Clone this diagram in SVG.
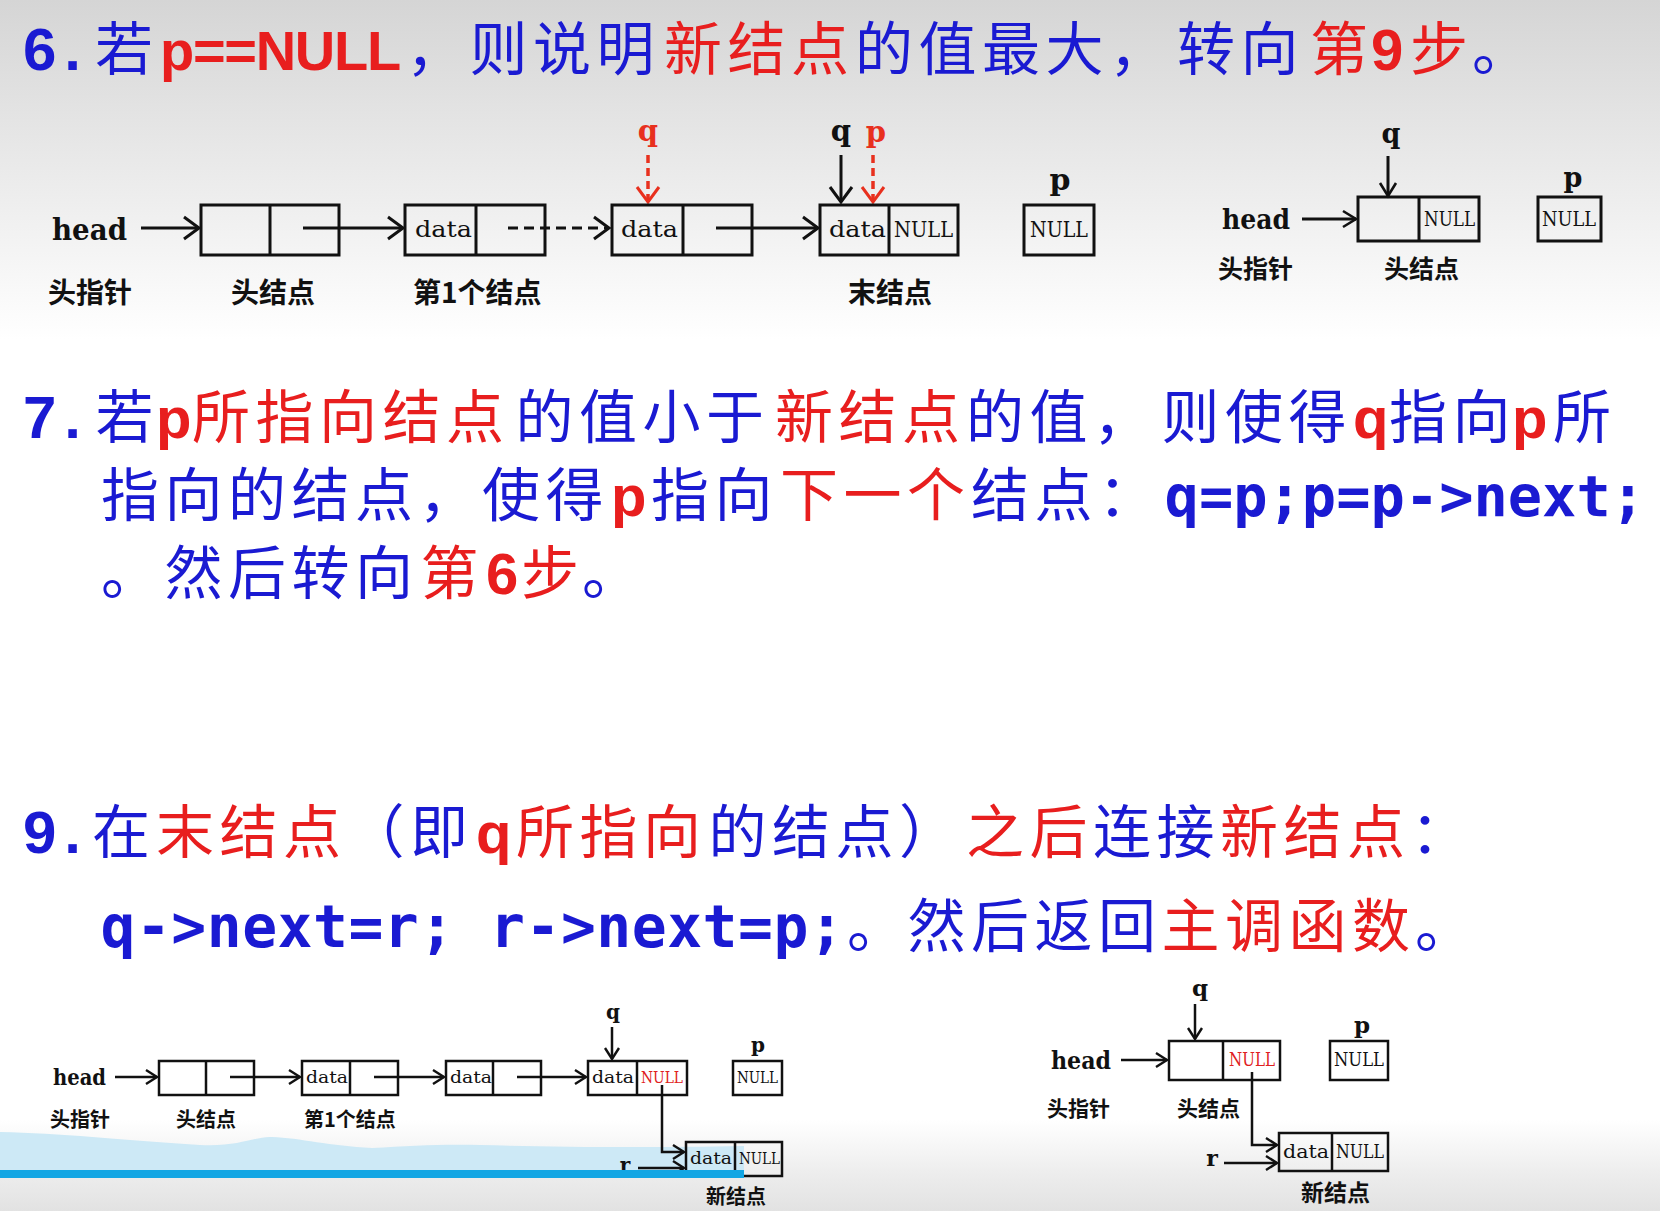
<svg xmlns="http://www.w3.org/2000/svg" width="1660" height="1211" viewBox="0 0 1660 1211">
<defs>
 <linearGradient id="topbg" x1="0" y1="0" x2="0" y2="1">
  <stop offset="0" stop-color="#d5d5d5"/>
  <stop offset="0.4" stop-color="#e6e6e6"/>
  <stop offset="1" stop-color="#ffffff"/>
 </linearGradient>
 <linearGradient id="botbg" x1="0" y1="0" x2="0" y2="1">
  <stop offset="0" stop-color="#ffffff"/>
  <stop offset="0.55" stop-color="#eeeeee"/>
  <stop offset="1" stop-color="#e2e2e2"/>
 </linearGradient>
 <marker id="ah" markerUnits="userSpaceOnUse" markerWidth="22" markerHeight="28" refX="18" refY="13" orient="auto" overflow="visible"><path d="M3,2 L18,13 L3,24" fill="none" stroke="#111" stroke-width="3"/></marker>
 <marker id="ahr" markerUnits="userSpaceOnUse" markerWidth="22" markerHeight="28" refX="18" refY="13" orient="auto" overflow="visible"><path d="M3,2 L18,13 L3,24" fill="none" stroke="#e8301e" stroke-width="3"/></marker>
 <marker id="ahm" markerUnits="userSpaceOnUse" markerWidth="18" markerHeight="22" refX="15" refY="10" orient="auto" overflow="visible"><path d="M2,2 L15,10 L2,18" fill="none" stroke="#111" stroke-width="2.6"/></marker>
 <marker id="ahs" markerUnits="userSpaceOnUse" markerWidth="16" markerHeight="20" refX="13" refY="9" orient="auto" overflow="visible"><path d="M2,2 L13,9 L2,16" fill="none" stroke="#111" stroke-width="2.4"/></marker>
</defs>
<style>
 .st{font-family:"Noto Sans CJK SC",sans-serif;font-size:58px}
 .c{font-family:"Noto Sans CJK SC",sans-serif}
 .L{font-family:"Liberation Sans",Arial,sans-serif;font-weight:700}
 .num{letter-spacing:8px;font-size:60px}
 .nul6{font-size:56px;letter-spacing:-1.3px}
 .M{font-family:"DejaVu Sans Mono",monospace;font-weight:700;font-size:57px}
 .M2{font-size:58px;letter-spacing:0.5px}
 .b{fill:#1a1ad2}
 .r{fill:#e81e1e}
 .bx{fill:none;stroke:#111;stroke-width:3}
 .bx2{fill:none;stroke:#111;stroke-width:2.5}
 .ln{fill:none;stroke:#111;stroke-width:3}
 .ln2{fill:none;stroke:#111;stroke-width:2.5}
 .rd{fill:none;stroke:#e8301e;stroke-width:3.5;stroke-dasharray:8 5}
 .cell{font-family:"DejaVu Serif","Liberation Serif",serif;fill:#111}
 .nul{fill:#e02020}
 .lbl{font-family:"Noto Sans CJK SC",sans-serif;font-weight:700;fill:#111}
 .ptr{font-family:"DejaVu Serif","Liberation Serif",serif;font-weight:700;fill:#111}
 .ptrr{fill:#e8301e}
</style>

<!-- background -->
<rect x="0" y="0" width="1660" height="1211" fill="#ffffff"/>
<rect x="0" y="0" width="1660" height="340" fill="url(#topbg)"/>
<rect x="0" y="1120" width="1660" height="91" fill="url(#botbg)"/>
<path d="M0,1132 C60,1133 120,1140 200,1145 C240,1147 255,1136 272,1137 C300,1138 330,1146 372,1148 C410,1146 440,1144 480,1145 C560,1147 640,1148 744,1146 L744,1170 L0,1170 Z" fill="#cde9f6"/>

<!-- step 6 -->
<g id="step6">
<text class="st"><tspan class="L num b" x="23" y="70">6.</tspan><tspan class="c b" x="95" y="70">若</tspan><tspan class="L nul6 r" x="160" y="70">p==NULL</tspan><tspan class="c b" x="406 469.5 533 596.5" y="70">，则说明</tspan><tspan class="c r" x="664 727.5 791" y="70">新结点</tspan><tspan class="c b" x="855 918.5 982 1045.5 1109" y="70">的值最大，</tspan><tspan class="c b" x="1177 1240.5" y="70">转向</tspan><tspan class="c r" x="1310" y="70">第</tspan><tspan class="L r" x="1371" y="70">9</tspan><tspan class="c r" x="1410" y="70">步</tspan><tspan class="c b" x="1472" y="70">。</tspan></text>
</g>

<!-- step 7 -->
<g id="step7">
<text class="st"><tspan class="L num b" x="23" y="438">7.</tspan><tspan class="c b" x="95.5" y="438">若</tspan><tspan class="L r" x="156" y="438">p</tspan><tspan class="c r" x="192 255.5 319 382.5 446" y="438">所指向结点</tspan><tspan class="c b" x="515.5 579 642.5 706" y="438">的值小于</tspan><tspan class="c r" x="775 838.5 902" y="438">新结点</tspan><tspan class="c b" x="966 1029.5 1093" y="438">的值，</tspan><tspan class="c b" x="1161.6 1225.1 1288.6" y="438">则使得</tspan><tspan class="L r" x="1353" y="438">q</tspan><tspan class="c b" x="1389 1452.5" y="438">指向</tspan><tspan class="L r" x="1512" y="438">p</tspan><tspan class="c b" x="1553" y="438">所</tspan><tspan class="c b" x="101 164.5 228 291.5 355 418.5 482 545.5" y="516">指向的结点，使得</tspan><tspan class="L r" x="611" y="516">p</tspan><tspan class="c b" x="651 714.5" y="516">指向</tspan><tspan class="c r" x="780 843.5 907" y="516">下一个</tspan><tspan class="c b" x="971 1034.5 1098" y="516">结点：</tspan><tspan class="M b" x="1164.6" y="516">q=p;p=p-&gt;next;</tspan><tspan class="c b" x="101 164.5 228 291.5 355" y="594">。然后转向</tspan><tspan class="c r" x="420.5" y="594">第</tspan><tspan class="L r" x="486" y="594">6</tspan><tspan class="c r" x="521" y="594">步</tspan><tspan class="c b" x="582" y="594">。</tspan></text>
</g>

<!-- step 9 -->
<g id="step9">
<text class="st"><tspan class="L num b" x="23" y="853">9.</tspan><tspan class="c b" x="92" y="853">在</tspan><tspan class="c r" x="156 219.5 283" y="853">末结点</tspan><tspan class="c b" x="346.5 410" y="853">（即</tspan><tspan class="L r" x="476" y="853">q</tspan><tspan class="c r" x="516 579.5 643" y="853">所指向</tspan><tspan class="c b" x="708.5 772 835.5 899" y="853">的结点）</tspan><tspan class="c r" x="966 1029.5" y="853">之后</tspan><tspan class="c b" x="1093 1156.5" y="853">连接</tspan><tspan class="c r" x="1220 1283.5 1347" y="853">新结点</tspan><tspan class="c b" x="1410.5" y="853">：</tspan><tspan class="M M2 b" x="100.5" y="947">q-&gt;next=r; r-&gt;next=p;</tspan><tspan class="c b" x="847" y="947">。</tspan><tspan class="c b" x="907.5 971 1034.5 1098" y="947">然后返回</tspan><tspan class="c r" x="1161.6 1225.1 1288.6 1352.1" y="947">主调函数</tspan><tspan class="c b" x="1415" y="947">。</tspan></text>
</g>

<!-- connectors -->
<g id="connectors">
 <line class="ln" x1="141" y1="228" x2="199" y2="228" marker-end="url(#ah)"/>
 <line class="ln" x1="303" y1="228" x2="403" y2="228" marker-end="url(#ah)"/>
 <line class="ln" x1="508" y1="228" x2="609" y2="228" stroke-dasharray="10 6" marker-end="url(#ah)"/>
 <line class="ln" x1="716" y1="228" x2="818" y2="228" marker-end="url(#ah)"/>
 <line class="rd" x1="648" y1="155" x2="648" y2="202" marker-end="url(#ahr)"/>
 <line class="ln" x1="841" y1="155" x2="841" y2="202" marker-end="url(#ah)"/>
 <line class="rd" x1="873" y1="155" x2="873" y2="202" marker-end="url(#ahr)"/>

 <line class="ln" x1="1302" y1="219" x2="1356" y2="219" marker-end="url(#ahm)"/>
 <line class="ln" x1="1388" y1="156" x2="1388" y2="196" marker-end="url(#ahm)"/>

 <line class="ln2" x1="115" y1="1077" x2="157" y2="1077" marker-end="url(#ahs)"/>
 <line class="ln2" x1="230" y1="1077" x2="300" y2="1077" marker-end="url(#ahs)"/>
 <line class="ln2" x1="374" y1="1077" x2="444" y2="1077" marker-end="url(#ahs)"/>
 <line class="ln2" x1="517" y1="1077" x2="586" y2="1077" marker-end="url(#ahs)"/>
 <line class="ln2" x1="612" y1="1027" x2="612" y2="1059" marker-end="url(#ahs)"/>
 <path class="ln2" d="M662,1085 V1152 H684" marker-end="url(#ahs)"/>
 <line class="ln2" x1="638" y1="1168" x2="684" y2="1168" marker-end="url(#ahs)"/>

 <line class="ln2" x1="1121" y1="1060" x2="1167" y2="1060" marker-end="url(#ahs)"/>
 <line class="ln2" x1="1195" y1="1004" x2="1195" y2="1039" marker-end="url(#ahs)"/>
 <path class="ln2" d="M1252,1072 V1145 H1277" marker-end="url(#ahs)"/>
 <line class="ln2" x1="1224" y1="1163" x2="1277" y2="1163" marker-end="url(#ahs)"/>
</g>

<!-- diagram 1 -->
<g id="d1-headptr">
 <text class="ptr" x="52" y="240" font-size="30" textLength="75" lengthAdjust="spacingAndGlyphs">head</text>
 <text class="lbl" x="48" y="303" font-size="28">头指针</text>
</g>
<g id="d1-headnode">
 <rect class="bx" x="201" y="205" width="138" height="50"/>
 <line class="bx" x1="270" y1="205" x2="270" y2="255"/>
 <text class="lbl" x="231" y="303" font-size="28">头结点</text>
</g>
<g id="d1-node1">
 <rect class="bx" x="405" y="205" width="140" height="50"/>
 <line class="bx" x1="476" y1="205" x2="476" y2="255"/>
 <text class="cell" x="415" y="237" font-size="23" textLength="57" lengthAdjust="spacingAndGlyphs">data</text>
 <text class="lbl" x="413" y="303" font-size="28">第1个结点</text>
</g>
<g id="d1-node2">
 <rect class="bx" x="612" y="205" width="140" height="50"/>
 <line class="bx" x1="683" y1="205" x2="683" y2="255"/>
 <text class="cell" x="621" y="237" font-size="23" textLength="57" lengthAdjust="spacingAndGlyphs">data</text>
</g>
<g id="d1-node3">
 <rect class="bx" x="820" y="205" width="138" height="50"/>
 <line class="bx" x1="889" y1="205" x2="889" y2="255"/>
 <text class="cell" x="829" y="237" font-size="23" textLength="57" lengthAdjust="spacingAndGlyphs">data</text>
 <text class="cell" x="894" y="237" font-size="23" textLength="59" lengthAdjust="spacingAndGlyphs">NULL</text>
 <text class="lbl" x="848" y="303" font-size="28">末结点</text>
</g>
<g id="d1-p">
 <rect class="bx" x="1024" y="205" width="70" height="50"/>
 <text class="cell" x="1030" y="237" font-size="23" textLength="58" lengthAdjust="spacingAndGlyphs">NULL</text>
 <text class="ptr" x="1060" y="190" font-size="30" text-anchor="middle">p</text>
</g>
<g id="d1-ptrs">
 <text class="ptr ptrr" x="648" y="141" font-size="29" text-anchor="middle">q</text>
 <text class="ptr" x="841" y="141" font-size="29" text-anchor="middle">q</text>
 <text class="ptr ptrr" x="876" y="142" font-size="29" text-anchor="middle">p</text>
</g>

<!-- diagram 2 -->
<g id="d2-headptr">
 <text class="ptr" x="1222" y="229" font-size="28" textLength="68" lengthAdjust="spacingAndGlyphs">head</text>
 <text class="lbl" x="1218" y="278" font-size="25">头指针</text>
</g>
<g id="d2-headnode">
 <rect class="bx" x="1358" y="197" width="121" height="44"/>
 <line class="bx" x1="1419" y1="197" x2="1419" y2="241"/>
 <text class="cell" x="1424" y="226" font-size="21" textLength="51" lengthAdjust="spacingAndGlyphs">NULL</text>
 <text class="lbl" x="1384" y="278" font-size="25">头结点</text>
 <text class="ptr" x="1391" y="143" font-size="27" text-anchor="middle">q</text>
</g>
<g id="d2-p">
 <rect class="bx" x="1538" y="197" width="63" height="44"/>
 <text class="cell" x="1542" y="226" font-size="21" textLength="54" lengthAdjust="spacingAndGlyphs">NULL</text>
 <text class="ptr" x="1573" y="187" font-size="27" text-anchor="middle">p</text>
</g>

<!-- diagram 3 -->
<g id="d3-headptr">
 <text class="ptr" x="53" y="1085" font-size="22" textLength="53" lengthAdjust="spacingAndGlyphs">head</text>
 <text class="lbl" x="50" y="1127" font-size="20">头指针</text>
</g>
<g id="d3-headnode">
 <rect class="bx2" x="159" y="1061" width="95" height="34"/>
 <line class="bx2" x1="206" y1="1061" x2="206" y2="1095"/>
 <text class="lbl" x="176" y="1127" font-size="20">头结点</text>
</g>
<g id="d3-node1">
 <rect class="bx2" x="302" y="1061" width="96" height="34"/>
 <line class="bx2" x1="350" y1="1061" x2="350" y2="1095"/>
 <text class="cell" x="306" y="1083" font-size="17" textLength="42" lengthAdjust="spacingAndGlyphs">data</text>
 <text class="lbl" x="304" y="1127" font-size="20">第1个结点</text>
</g>
<g id="d3-node2">
 <rect class="bx2" x="446" y="1061" width="95" height="34"/>
 <line class="bx2" x1="493" y1="1061" x2="493" y2="1095"/>
 <text class="cell" x="450" y="1083" font-size="17" textLength="42" lengthAdjust="spacingAndGlyphs">data</text>
</g>
<g id="d3-node3">
 <rect class="bx2" x="588" y="1061" width="99" height="34"/>
 <line class="bx2" x1="637" y1="1061" x2="637" y2="1095"/>
 <text class="cell" x="592" y="1083" font-size="17" textLength="42" lengthAdjust="spacingAndGlyphs">data</text>
 <text class="cell nul" x="641" y="1083" font-size="17" textLength="42" lengthAdjust="spacingAndGlyphs">NULL</text>
 <text class="ptr" x="613" y="1019" font-size="20" text-anchor="middle">q</text>
</g>
<g id="d3-p">
 <rect class="bx2" x="733" y="1061" width="49" height="34"/>
 <text class="cell" x="737" y="1083" font-size="17" textLength="41" lengthAdjust="spacingAndGlyphs">NULL</text>
 <text class="ptr" x="758" y="1052" font-size="20" text-anchor="middle">p</text>
</g>
<g id="d3-newnode">
 <rect class="bx2" x="686" y="1142" width="96" height="34"/>
 <line class="bx2" x1="735" y1="1142" x2="735" y2="1176"/>
 <text class="cell" x="690" y="1164" font-size="17" textLength="42" lengthAdjust="spacingAndGlyphs">data</text>
 <text class="cell" x="739" y="1164" font-size="17" textLength="41" lengthAdjust="spacingAndGlyphs">NULL</text>
 <text class="ptr" x="625" y="1172" font-size="20" text-anchor="middle">r</text>
</g>

<!-- blue bar -->
<rect x="0" y="1170" width="744" height="8" fill="#12a6e4"/>
<g id="d3-newlabel">
 <text class="lbl" x="706" y="1204" font-size="20">新结点</text>
</g>

<!-- diagram 4 -->
<g id="d4-headptr">
 <text class="ptr" x="1051" y="1069" font-size="25" textLength="60" lengthAdjust="spacingAndGlyphs">head</text>
 <text class="lbl" x="1047" y="1116" font-size="21">头指针</text>
</g>
<g id="d4-headnode">
 <rect class="bx2" x="1169" y="1041" width="111" height="39"/>
 <line class="bx2" x1="1223" y1="1041" x2="1223" y2="1080"/>
 <text class="cell nul" x="1229" y="1066" font-size="19" textLength="46" lengthAdjust="spacingAndGlyphs">NULL</text>
 <text class="lbl" x="1177" y="1116" font-size="21">头结点</text>
 <text class="ptr" x="1200" y="996" font-size="23" text-anchor="middle">q</text>
</g>
<g id="d4-p">
 <rect class="bx2" x="1330" y="1041" width="58" height="39"/>
 <text class="cell" x="1334" y="1066" font-size="19" textLength="50" lengthAdjust="spacingAndGlyphs">NULL</text>
 <text class="ptr" x="1362" y="1033" font-size="23" text-anchor="middle">p</text>
</g>
<g id="d4-newnode">
 <rect class="bx2" x="1279" y="1133" width="109" height="38"/>
 <line class="bx2" x1="1332" y1="1133" x2="1332" y2="1171"/>
 <text class="cell" x="1283" y="1158" font-size="19" textLength="46" lengthAdjust="spacingAndGlyphs">data</text>
 <text class="cell" x="1336" y="1158" font-size="19" textLength="48" lengthAdjust="spacingAndGlyphs">NULL</text>
 <text class="ptr" x="1212" y="1166" font-size="22" text-anchor="middle">r</text>
 <text class="lbl" x="1301" y="1201" font-size="23">新结点</text>
</g>
</svg>
